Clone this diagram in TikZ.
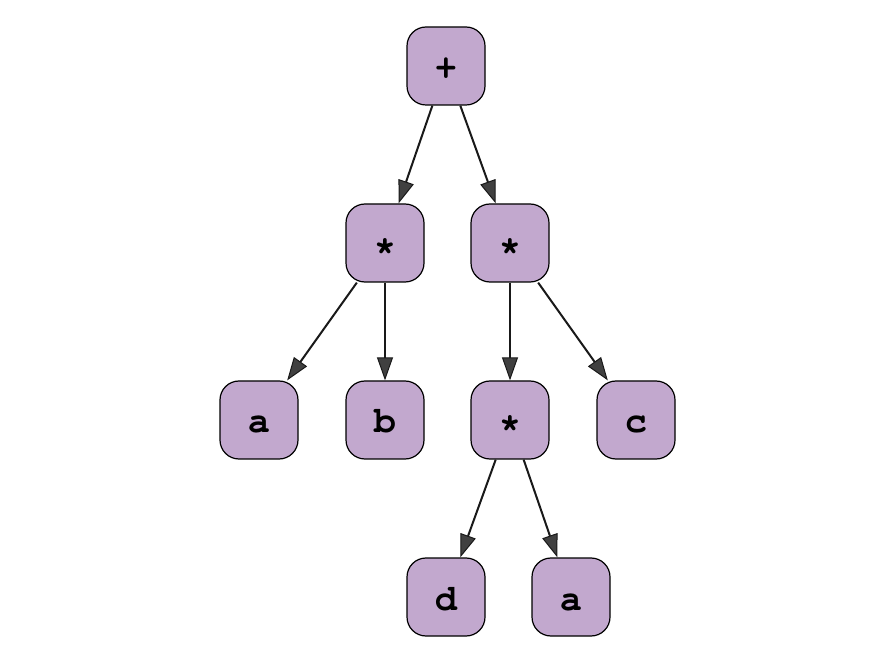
\documentclass[tikz,border=0pt]{standalone}
\usepackage[T1]{fontenc}
\usetikzlibrary{arrows.meta}
\definecolor{tnfill}{HTML}{C2A8CE}
\tikzset{
  tnode/.style={draw=black, line width=1.2pt, fill=tnfill, rounded corners=19pt,
    minimum width=78pt, minimum height=78pt, inner sep=0pt,
    text height=26pt, text depth=0pt,
    font=\fontfamily{pcr}\fontseries{b}\fontsize{37}{37}\selectfont},
  tedge/.style={draw=black!90, line width=2pt,
    -{Triangle[length=23pt,width=16pt,fill=black!75,line width=1pt]}},
}
\begin{document}
\begin{tikzpicture}[x=1pt,y=-1pt]
\useasboundingbox (0,0) rectangle (887,660);
\node[tnode] (plus) at (446,66) {+};
\node[tnode] (m1) at (385,243) {*};
\node[tnode] (m2) at (510,243) {*};
\node[tnode] (a1) at (259,420) {a};
\node[tnode] (b) at (385,420) {b};
\node[tnode] (m3) at (510,420) {*};
\node[tnode] (c) at (636,420) {c};
\node[tnode] (d) at (446,597) {d};
\node[tnode] (a2) at (571,597) {a};
\draw[tedge] (plus) -- (m1);
\draw[tedge] (plus) -- (m2);
\draw[tedge] (m1) -- (a1);
\draw[tedge] (m1) -- (b);
\draw[tedge] (m2) -- (m3);
\draw[tedge] (m2) -- (c);
\draw[tedge] (m3) -- (d);
\draw[tedge] (m3) -- (a2);
\end{tikzpicture}
\end{document}
